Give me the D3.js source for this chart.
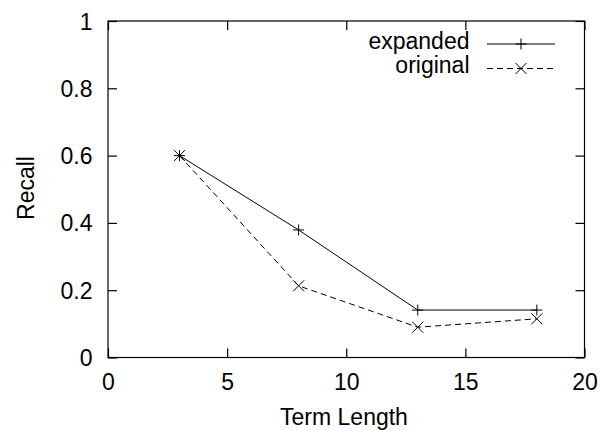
<!DOCTYPE html>
<html>
<head>
<meta charset="UTF-8">
<script src="https://d3js.org/d3.v7.min.js"></script>
<style>
  body { margin: 0; background: #fff; }
  svg { display: block; font-family: 'Liberation Sans', Arial, sans-serif; }
  .tick text { font-size: 23px; fill: #000; }
</style>
</head>
<body>
<svg width="600" height="431"></svg>
<script>
const termLength = [3, 8, 13, 18];
const expanded = [0.6, 0.379, 0.141, 0.141];
const original = [0.6, 0.213, 0.09, 0.115];
const xTicks = [0, 5, 10, 15, 20];
const yTicks = [0, 0.2, 0.4, 0.6, 0.8, 1];

const svg = d3.select("svg");
const L = 108, R = 584.5, T = 21, B = 357.5;
const x = d3.scaleLinear().domain([0, 20]).range([L, R]);
const y = d3.scaleLinear().domain([0, 1]).range([B, T]);
const tk = 9;
const fs = 23;

// frame
svg.append("rect").attr("x", L).attr("y", T).attr("width", R - L).attr("height", B - T)
  .attr("fill", "none").attr("stroke", "#000").attr("stroke-width", 1.2);

// ticks, mirrored inward on all sides
const gx = svg.append("g").attr("transform", `translate(0,${B})`)
  .call(d3.axisBottom(x).tickValues(xTicks).tickFormat(d3.format("d")).tickSize(-tk).tickPadding(16));
const gy = svg.append("g").attr("transform", `translate(${L},0)`)
  .call(d3.axisLeft(y).tickValues(yTicks).tickFormat(d => d === 0 || d === 1 ? d : d3.format(".1f")(d)).tickSize(-tk).tickPadding(15.5));
svg.append("g").attr("transform", `translate(0,${T})`)
  .call(d3.axisTop(x).tickValues(xTicks).tickFormat("").tickSize(-tk));
svg.append("g").attr("transform", `translate(${R},0)`)
  .call(d3.axisRight(y).tickValues(yTicks).tickFormat("").tickSize(-tk));
svg.selectAll(".domain").remove();
svg.selectAll(".tick line").attr("stroke", "#000").attr("stroke-width", 1.2);
gx.selectAll(".tick text").attr("dy", "0.71em");
gy.selectAll(".tick text").attr("dy", "0.35em");

// axis titles
svg.append("text").attr("x", 344).attr("y", 425).attr("text-anchor", "middle")
  .attr("font-size", fs).text("Term Length");
svg.append("text").attr("transform", "translate(33.5,188) rotate(-90)").attr("text-anchor", "middle")
  .attr("font-size", fs).text("Recall");

const line = d3.line().x(d => x(d[0])).y(d => y(d[1]));
const plus = (g, cx, cy, s) => g.append("path")
  .attr("d", `M${cx - s},${cy}H${cx + s}M${cx},${cy - s}V${cy + s}`)
  .attr("stroke", "#000").attr("stroke-width", 1);
const cross = (g, cx, cy, s) => g.append("path")
  .attr("d", `M${cx - s},${cy - s}L${cx + s},${cy + s}M${cx - s},${cy + s}L${cx + s},${cy - s}`)
  .attr("stroke", "#000").attr("stroke-width", 1);

const series = [
  { name: "expanded", vals: expanded, dash: null, mark: plus },
  { name: "original", vals: original, dash: "6,4", mark: cross }
];

series.forEach((s, i) => {
  const pts = termLength.map((t, j) => [t, s.vals[j]]);
  svg.append("path").datum(pts).attr("d", line).attr("fill", "none")
    .attr("stroke", "#000").attr("stroke-width", 1)
    .attr("stroke-dasharray", s.dash);
  pts.forEach(p => s.mark(svg, x(p[0]), y(p[1]), 5.5));

  const ly = 44 + i * 24.5;
  svg.append("text").attr("x", 469.5).attr("y", ly + 4.5)
    .attr("text-anchor", "end").attr("font-size", fs).text(s.name);
  svg.append("line").attr("x1", 487).attr("x2", 555).attr("y1", ly).attr("y2", ly)
    .attr("stroke", "#000").attr("stroke-width", 1).attr("stroke-dasharray", s.dash);
  s.mark(svg, 521, ly, 5.5);
});
</script>
</body>
</html>
